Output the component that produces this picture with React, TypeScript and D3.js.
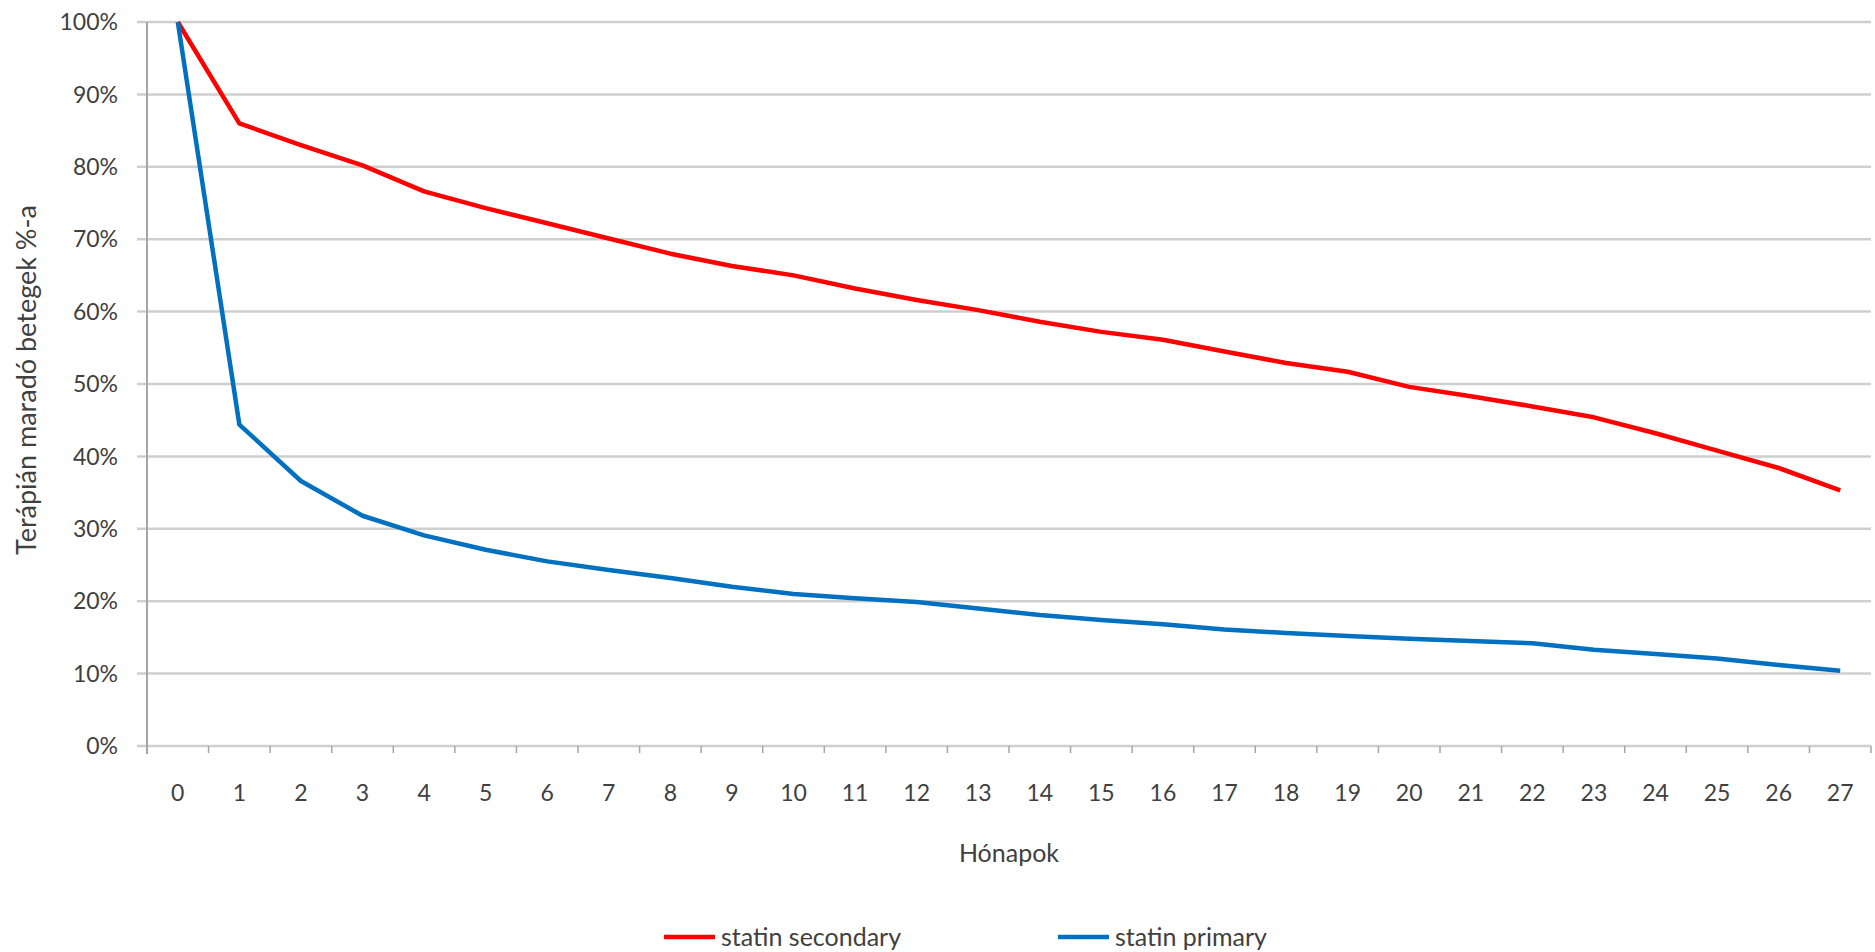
import React from "react";
import * as d3 from "d3";

const months = Array.from({ length: 28 }, (_, i) => String(i));
const secondary = [100, 86.0, 83.0, 80.2, 76.6, 74.3, 72.2, 70.1, 68.0, 66.3, 65.0, 63.2, 61.6, 60.2, 58.6, 57.2, 56.1, 54.5, 52.9, 51.7, 49.6, 48.3, 46.9, 45.4, 43.2, 40.8, 38.4, 35.3];
const primary = [100, 44.4, 36.6, 31.8, 29.1, 27.1, 25.5, 24.3, 23.2, 22.0, 21.0, 20.4, 19.9, 19.0, 18.1, 17.4, 16.8, 16.1, 15.6, 15.2, 14.8, 14.5, 14.2, 13.3, 12.7, 12.1, 11.2, 10.4];
const yTicks = [0, 10, 20, 30, 40, 50, 60, 70, 80, 90, 100];
const seriesNames = ["statin secondary", "statin primary"];
const seriesColors = ["#ff0000", "#0070c0"];
const yTitle = "Terápián maradó betegek %-a";
const xTitle = "Hónapok";

const W = 1875, H = 952;
const left = 147, right = 1871, top = 22, bottom = 746;
const font = "Lato, 'Open Sans', sans-serif";
const textColor = "#404040";

export default function App() {
  const x = d3.scaleBand<string>().domain(months).range([left, right]).padding(0);
  const y = d3.scaleLinear().domain([0, 100]).range([bottom, top]);
  const cx = (m: string) => (x(m) as number) + x.bandwidth() / 2;
  const line = d3.line<number>().x((_, i) => cx(months[i])).y((v) => y(v));
  const data = [secondary, primary];
  const boundaries = months.map((m) => x(m) as number).concat([right]);

  return (
    <svg width={W} height={H} style={{ position: "absolute", left: 0, top: 0, background: "#fff" }}>
      {yTicks.map((t) => (
        <line key={"g" + t} x1={left - 10} x2={right} y1={y(t)} y2={y(t)} stroke="#cfcfcf" strokeWidth={2.5} />
      ))}
      <line x1={left} x2={left} y1={top} y2={bottom + 8} stroke="#a6a6a6" strokeWidth={2} />
      {boundaries.map((b, i) => (
        <line key={"t" + i} x1={b} x2={b} y1={bottom} y2={bottom + 7} stroke="#a6a6a6" strokeWidth={1.5} />
      ))}
      {yTicks.map((t) => (
        <text key={"yl" + t} x={118} y={y(t)} dy="0.36em" textAnchor="end" fontFamily={font} fontSize={23} fill={textColor}>
          {t + "%"}
        </text>
      ))}
      {months.map((m) => (
        <text key={"xl" + m} x={cx(m)} y={793} dy="0.36em" textAnchor="middle" fontFamily={font} fontSize={23} fill={textColor}>
          {m}
        </text>
      ))}
      <text transform={`translate(26,380) rotate(-90)`} dy="0.36em" textAnchor="middle" fontFamily={font} fontSize={27} fill={textColor}>
        {yTitle}
      </text>
      <text x={(left + right) / 2} y={853} dy="0.36em" textAnchor="middle" fontFamily={font} fontSize={25} fill={textColor}>
        {xTitle}
      </text>
      {data.map((d, i) => (
        <path key={"s" + i} d={line(d) as string} fill="none" stroke={seriesColors[i]} strokeWidth={4.5} strokeLinejoin="round" />
      ))}
      {seriesNames.map((n, i) => {
        const lx = i === 0 ? 664 : 1058;
        return (
          <g key={"lg" + i}>
            <line x1={lx} x2={lx + 51} y1={937} y2={937} stroke={seriesColors[i]} strokeWidth={4.5} />
            <text x={lx + 57} y={937} dy="0.36em" fontFamily={font} fontSize={25} fill={textColor}>
              {n}
            </text>
          </g>
        );
      })}
    </svg>
  );
}
